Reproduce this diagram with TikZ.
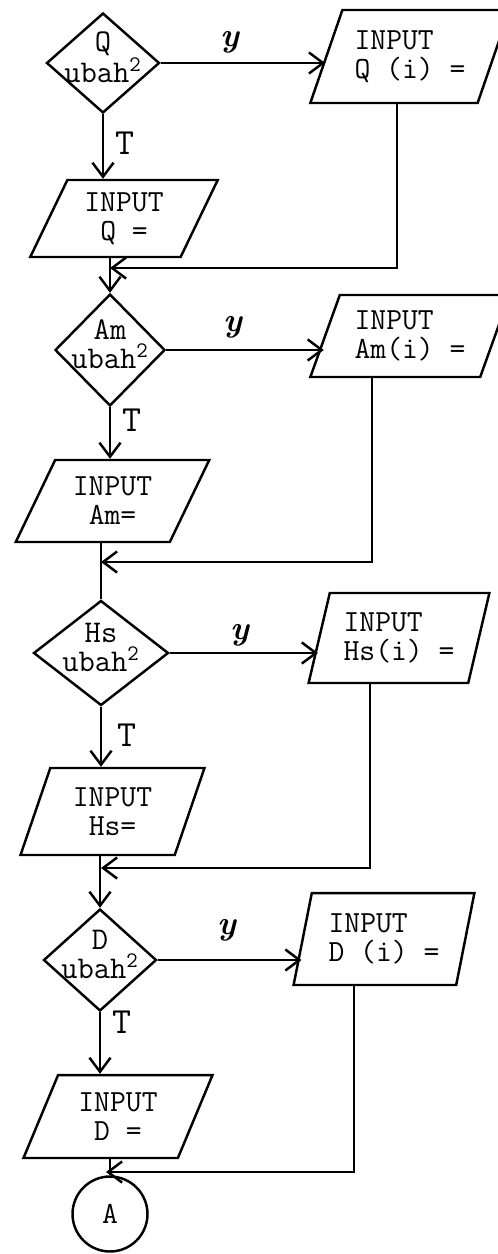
\documentclass[tikz,border=0pt]{standalone}
\usepackage{amsmath}
\usepackage{tikz}
\usetikzlibrary{shapes.geometric,arrows.meta}

\begin{document}
\begin{tikzpicture}[x=0.02cm,y=-0.02cm,
  line/.style={line width=1.4pt},
  arr/.style={line,-{Straight Barb[length=8pt,width=12pt]}},
  tt/.style={font=\fontsize{17.5}{16.5}\selectfont\ttfamily},
  tlab/.style={font=\fontsize{21}{21}\selectfont\ttfamily},
  ylab/.style={font=\fontsize{19}{19}\selectfont\bfseries\itshape},
  dlab/.style={font=\fontsize{18}{16.5}\selectfont\ttfamily,align=center,yshift=0.12cm},
  cond/.style={diamond,draw,line,inner sep=0pt},
  io/.style={trapezium,draw,line,tt,trapezium stretches=true,inner sep=1pt,
    trapezium left angle=#1,trapezium right angle=180-#1}]
\useasboundingbox (0,0) rectangle (497,1254);

\node[cond,minimum width=2.26cm,minimum height=2cm,
  label={[dlab]center:{Q\\ubah\textsuperscript{2}}}] (dq) at (103,63) {};
\node[io=64,align=left,minimum width=4cm,minimum height=1.86cm] (qi) at (410,56.5) {INPUT\\Q (i) =};
\node[io=64,align=center,minimum width=3.76cm,minimum height=1.54cm] (qe) at (124,218.5) {INPUT\\Q =};
\node[ylab] (y1) at (230,42) {y};
\node[tlab] (t1) at (125,143) {T};
\coordinate (r1) at (397,268);
\coordinate (m1) at (110,268);

\node[cond,minimum width=2.2cm,minimum height=2.24cm,
  label={[dlab]center:{Am\\ubah\textsuperscript{2}}}] (da) at (110,350) {};
\node[io=66,align=left,minimum width=4cm,minimum height=1.64cm] (ai) at (410,336) {INPUT\\Am(i) =};
\node[io=61,align=center,minimum width=3.9cm,minimum height=1.64cm] (ae) at (112.5,501) {INPUT\\Am=};
\node[ylab] (y2) at (233,327) {y};
\node[tlab] (t2) at (132,420) {T};
\coordinate (r2) at (372,562);
\coordinate (m2) at (101,562);

\node[cond,minimum width=2.7cm,minimum height=2.1cm,
  label={[dlab]center:{Hs\\ubah\textsuperscript{2}}}] (dh) at (101,653) {};
\node[io=72,align=left,minimum width=3.64cm,minimum height=1.8cm] (hi) at (399,638) {INPUT\\Hs(i) =};
\node[io=69,align=center,minimum width=3.7cm,minimum height=1.74cm] (he) at (112.5,811.5) {INPUT\\Hs=};
\node[ylab] (y3) at (240,635) {y};
\node[tlab] (t3) at (127,735) {T};
\coordinate (r3) at (370,868);
\coordinate (m3) at (101,868);

\node[cond,minimum width=2.26cm,minimum height=2.04cm,
  label={[dlab]center:{D\\ubah\textsuperscript{2}}}] (dd) at (100,960) {};
\node[io=75,align=left,minimum width=3.64cm,minimum height=1.84cm] (di) at (384,939) {INPUT\\D (i) =};
\node[io=65,align=center,minimum width=3.8cm,minimum height=1.66cm] (de) at (118,1116.5) {INPUT\\D =};
\node[ylab] (y4) at (227,930) {y};
\node[tlab] (t4) at (122,1022) {T};
\coordinate (r4) at (354,1172);
\coordinate (m4) at (106,1172);
\node[circle,draw,line,tt,minimum size=1.5cm,inner sep=0pt] (a) at (110,1214) {A};

\draw[arr] (dq.east) -- (dq.east -| qi.west);
\draw[arr] (dq.south) -- (dq.south |- qe.north);
\draw[arr] (qi.south -| r1) -- (r1) -- (m1);
\draw[arr] (da.north |- qe.south) -- (da.north);

\draw[arr] (da.east) -- (da.east -| ai.west);
\draw[arr] (da.south) -- (da.south |- ae.north);
\draw[arr] (ai.south -| r2) -- (r2) -- (m2);
\draw[line] (dh.north |- ae.south) -- (dh.north);

\draw[arr] (dh.east) -- (dh.east -| hi.west);
\draw[arr] (dh.south) -- (dh.south |- he.north);
\draw[arr] (hi.south -| r3) -- (r3) -- (m3);
\draw[arr] (dd.north |- he.south) -- (dd.north);

\draw[arr] (dd.east) -- (dd.east -| di.west);
\draw[arr] (dd.south) -- (dd.south |- de.north);
\draw[arr] (di.south -| r4) -- (r4) -- (m4);
\draw[line] (a.north |- de.south) -- (a.north);
\end{tikzpicture}
\end{document}
